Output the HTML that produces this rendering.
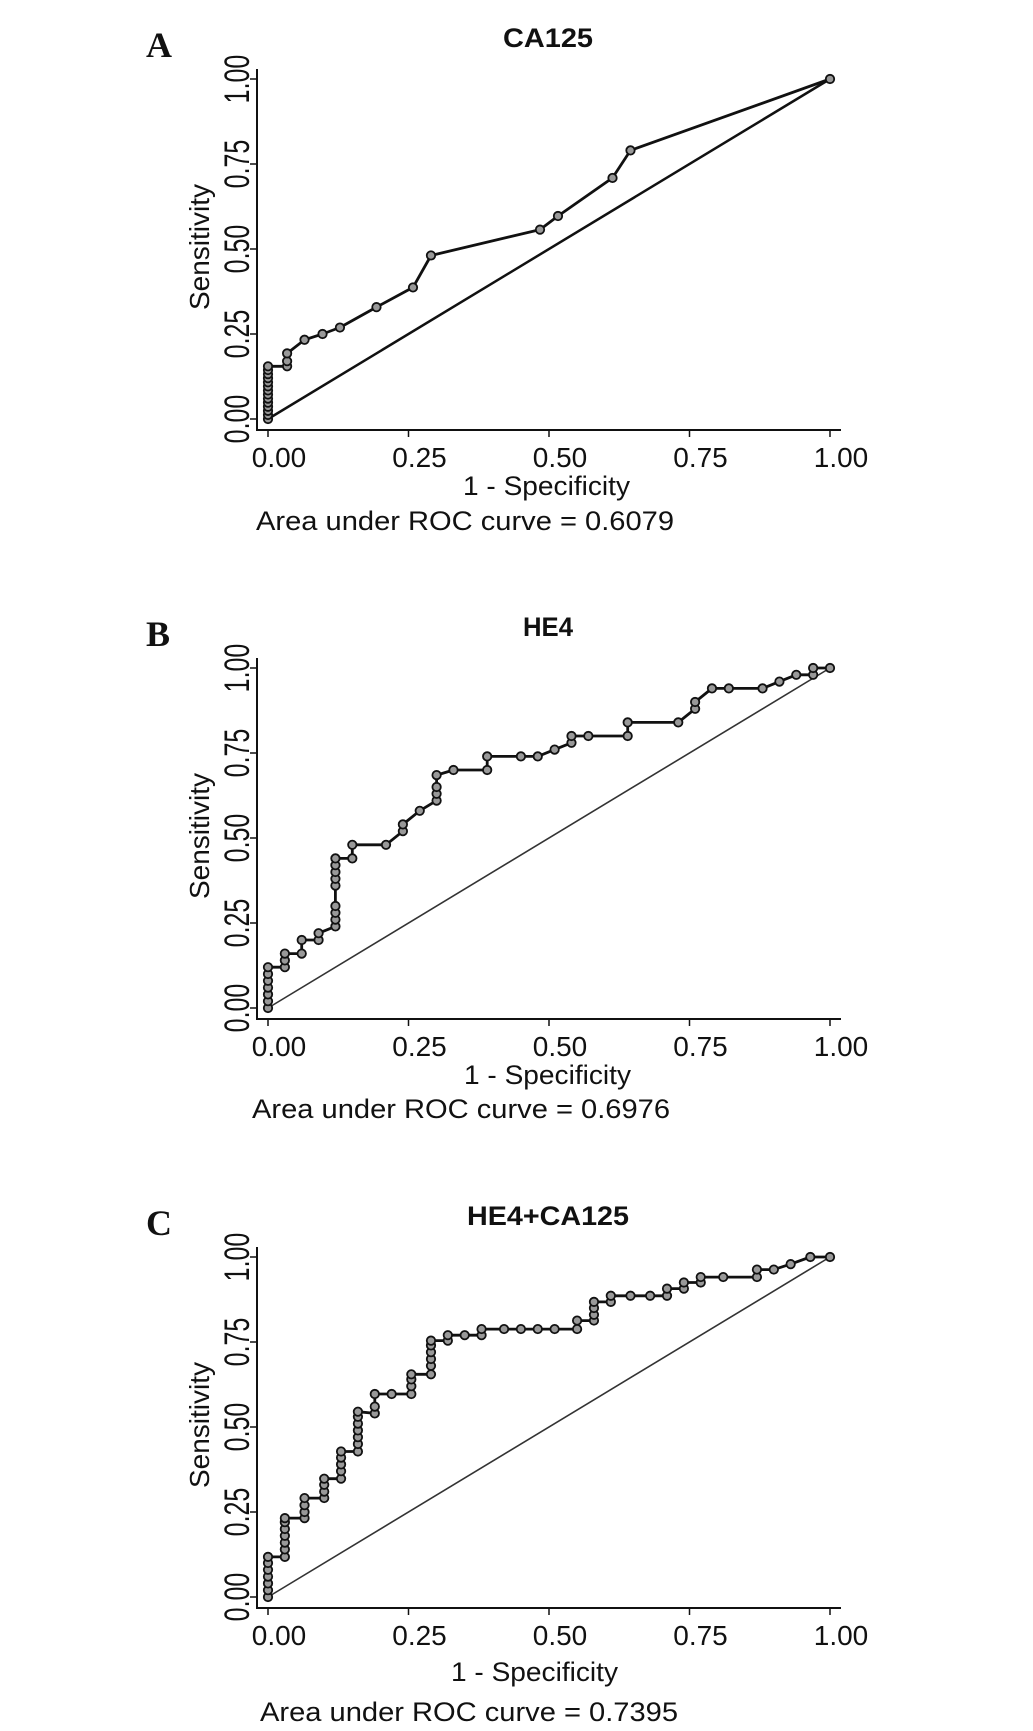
<!DOCTYPE html>
<html><head><meta charset="utf-8"><style>
html,body{margin:0;padding:0;background:#fff;}
svg{display:block;}
text{font-family:"Liberation Sans",Arial,sans-serif;fill:#111;}
</style></head><body>
<svg id="fig" width="1033" height="1731" viewBox="0 0 1033 1731" xmlns="http://www.w3.org/2000/svg"></svg>
<script>
const xTicks = [0, 0.25, 0.5, 0.75, 1];
const tickLabels = ["0.00", "0.25", "0.50", "0.75", "1.00"];
const panelLetters = ["A", "B", "C"];
const panelTitles = ["CA125", "HE4", "HE4+CA125"];
const aucLabels = ["Area under ROC curve = 0.6079", "Area under ROC curve = 0.6976", "Area under ROC curve = 0.7395"];

const ca125X = [0,0,0,0,0,0,0,0,0,0,0,0,0,0,0.034,0.034,0.034,0.065,0.097,0.128,0.193,0.258,0.29,0.484,0.516,0.613,0.645,1];
const ca125Y = [0,0.012,0.024,0.036,0.048,0.06,0.072,0.084,0.096,0.108,0.12,0.132,0.144,0.155,0.155,0.17,0.193,0.233,0.25,0.269,0.329,0.387,0.481,0.557,0.597,0.709,0.79,1];

const he4X = [0,0,0,0,0,0,0,0.03,0.03,0.03,0.06,0.06,0.09,0.09,0.12,0.12,0.12,0.12,0.12,0.12,0.12,0.12,0.12,0.15,0.15,0.21,0.24,0.24,0.27,0.30,0.30,0.30,0.30,0.33,0.39,0.39,0.45,0.48,0.51,0.54,0.54,0.57,0.64,0.64,0.73,0.76,0.76,0.79,0.82,0.88,0.91,0.94,0.97,0.97,1];
const he4Y = [0,0.02,0.04,0.06,0.08,0.10,0.12,0.12,0.14,0.16,0.16,0.20,0.20,0.22,0.24,0.26,0.28,0.30,0.36,0.38,0.40,0.42,0.44,0.44,0.48,0.48,0.52,0.54,0.58,0.61,0.63,0.65,0.685,0.70,0.70,0.74,0.74,0.74,0.76,0.78,0.80,0.80,0.80,0.84,0.84,0.88,0.90,0.94,0.94,0.94,0.96,0.98,0.98,1,1];

const comboX = [0,0,0,0,0,0,0,0.03,0.03,0.03,0.03,0.03,0.03,0.03,0.065,0.065,0.065,0.065,0.10,0.10,0.10,0.10,0.13,0.13,0.13,0.13,0.13,0.16,0.16,0.16,0.16,0.16,0.16,0.16,0.19,0.19,0.19,0.22,0.255,0.255,0.255,0.255,0.29,0.29,0.29,0.29,0.29,0.29,0.32,0.32,0.35,0.38,0.38,0.42,0.45,0.48,0.51,0.55,0.55,0.58,0.58,0.58,0.58,0.61,0.61,0.645,0.68,0.71,0.71,0.74,0.74,0.77,0.77,0.81,0.87,0.87,0.90,0.93,0.965,1];
const comboY = [0,0.02,0.04,0.06,0.08,0.10,0.118,0.118,0.14,0.16,0.18,0.20,0.22,0.232,0.232,0.25,0.27,0.291,0.291,0.31,0.33,0.348,0.348,0.37,0.39,0.41,0.428,0.428,0.45,0.47,0.49,0.51,0.53,0.545,0.54,0.56,0.597,0.597,0.597,0.62,0.64,0.655,0.655,0.68,0.70,0.72,0.74,0.754,0.754,0.77,0.77,0.77,0.788,0.788,0.788,0.788,0.788,0.788,0.813,0.813,0.83,0.85,0.868,0.868,0.886,0.886,0.886,0.886,0.907,0.907,0.925,0.925,0.941,0.941,0.941,0.963,0.963,0.979,1,1];

const seriesX = [ca125X, he4X, comboX];
const seriesY = [ca125Y, he4Y, comboY];

const NS = "http://www.w3.org/2000/svg";
const svg = document.getElementById("fig");
const offsets = [0, 589, 1178];
const specDy = [0, 0, 8];
const aucDy = [0, -1, 13];
const aucX = [256, 252, 260];
const specX = [463, 464, 451];
const titleW = [90, 50, 162];
const diagStyle = [["#111", 2.5], ["#333", 1.6], ["#333", 1.6]];

function mk(tag, attrs, parent) {
  const el = document.createElementNS(NS, tag);
  for (const k in attrs) el.setAttribute(k, attrs[k]);
  (parent || svg).appendChild(el);
  return el;
}
function xScale(v) { return 268 + 562 * v; }

for (let p = 0; p < 3; p++) {
  const dy = offsets[p];
  const yScale = v => 419 + dy - 340 * v;
  const g = mk("g", {});
  
  

  const letter = mk("text", {x: 146, y: 57 + dy, "font-size": 36, "font-weight": "bold", style: 'font-family:"Liberation Serif",serif'}, g);
  letter.textContent = panelLetters[p];
  
  

  const title = mk("text", {x: 548, y: 47 + dy, "font-size": 27, "font-weight": "bold", "text-anchor": "middle", textLength: titleW[p], lengthAdjust: "spacingAndGlyphs"}, g);
  title.textContent = panelTitles[p];
  
  

  const yAxis = mk("line", {x1: 257, y1: 69 + dy, x2: 257, y2: 431 + dy, stroke: "#111", "stroke-width": 2}, g);
  
  
  const xAxis = mk("line", {x1: 256, y1: 430 + dy, x2: 841, y2: 430 + dy, stroke: "#111", "stroke-width": 2}, g);
  
  

  for (let i = 0; i < xTicks.length; i++) {
    const xt = mk("line", {x1: xScale(xTicks[i]), y1: 430 + dy, x2: xScale(xTicks[i]), y2: 437 + dy, stroke: "#111", "stroke-width": 1.5}, g);
    
    
    const xl = mk("text", {x: xScale(xTicks[i]) + 11, y: 467 + dy, "font-size": 28, "text-anchor": "middle"}, g);
    xl.textContent = tickLabels[i];
    
    

    const yt = mk("line", {x1: 250, y1: yScale(xTicks[i]), x2: 257, y2: yScale(xTicks[i]), stroke: "#111", "stroke-width": 1.5}, g);
    
    
    const yl = mk("text", {"font-size": 25, "text-anchor": "middle", transform: "translate(249," + yScale(xTicks[i]) + ") rotate(-90) scale(1,1.4)"}, g);
    yl.textContent = tickLabels[i];
    
    
  }

  const yt = mk("text", {"font-size": 28, "text-anchor": "middle", transform: "translate(209," + (247 + dy) + ") rotate(-90)"}, g);
  yt.textContent = "Sensitivity";
  
  

  const xt = mk("text", {x: specX[p], y: 495 + dy + specDy[p], "font-size": 27, textLength: 167, lengthAdjust: "spacingAndGlyphs"}, g);
  xt.textContent = "1 - Specificity";
  
  

  const auc = mk("text", {x: aucX[p], y: 530 + dy + aucDy[p], "font-size": 27, textLength: 418, lengthAdjust: "spacingAndGlyphs"}, g);
  auc.textContent = aucLabels[p];
  
  

  const diag = mk("line", {x1: xScale(0), y1: yScale(0), x2: xScale(1), y2: yScale(1), stroke: diagStyle[p][0], "stroke-width": diagStyle[p][1]}, g);
  
  

  const xs = seriesX[p], ys = seriesY[p];
  const pts = xs.map((v, i) => xScale(v).toFixed(1) + "," + yScale(ys[i]).toFixed(1)).join(" ");
  const curve = mk("polyline", {points: pts, fill: "none", stroke: "#111", "stroke-width": 2.8, "stroke-linejoin": "round"}, g);
  
  

  for (let i = 0; i < xs.length; i++) {
    const c = mk("circle", {cx: xScale(xs[i]), cy: yScale(ys[i]), r: 4.2, fill: "#999", stroke: "#111", "stroke-width": 1.8}, g);
    
    
  }
}
</script>
</body></html>
